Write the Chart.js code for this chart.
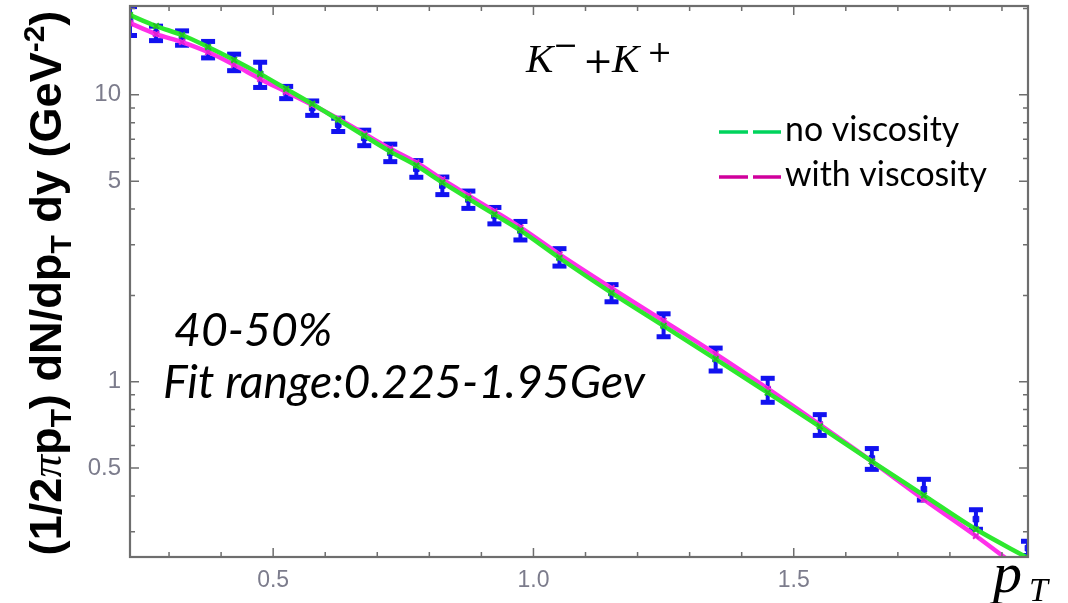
<!DOCTYPE html>
<html><head><meta charset="utf-8">
<script src="https://cdn.jsdelivr.net/npm/chart.js@4.4.1/dist/chart.umd.min.js"></script>
<style>html,body{margin:0;padding:0;background:#fff;overflow:hidden}canvas{display:block}</style>
</head><body>
<canvas id="c" width="1068" height="603"></canvas>
<script>
// ---- data ----
const pT = [0.225,0.275,0.325,0.375,0.425,0.475,0.525,0.575,0.625,0.675,0.725,0.775,0.825,0.875,0.925,0.975,
            1.05,1.15,1.25,1.35,1.45,1.55,1.65,1.75,1.85,1.95];
const yields = [18.2,16.4,15.8,14.4,13.0,11.8,10.2,9.0,7.87,7.09,6.29,5.53,4.83,4.32,3.80,3.37,
                2.72,2.04,1.58,1.20,0.938,0.709,0.540,0.422,0.332,0.263];
const errors = [2.1,0.95,0.91,0.95,0.86,1.19,0.50,0.52,0.42,0.44,0.44,0.37,0.34,0.30,0.25,0.25,
                0.19,0.14,0.145,0.11,0.09,0.059,0.045,0.035,0.026,0.015];
const fitNoViscosity = [18.96,17.36,16.16,14.68,13.23,11.83,10.49,9.30,8.19,7.20,6.34,5.67,4.95,4.35,3.83,3.37,
                        2.70,2.04,1.565,1.20,0.916,0.698,0.528,0.402,0.306,0.243];
const fitWithViscosity = [17.78,16.29,15.28,14.10,12.72,11.36,10.24,9.23,8.25,7.32,6.49,5.81,5.07,4.46,3.93,3.45,
                          2.78,2.12,1.63,1.25,0.946,0.709,0.528,0.389,0.290,0.212];
const seriesLabels = ['no viscosity','with viscosity'];
const xTickValues = [0.5,1.0,1.5];
const xMinorTicks = [0.3,0.4,0.6,0.7,0.8,0.9,1.1,1.2,1.3,1.4,1.6,1.7,1.8,1.9];
const yTickValues = [0.5,1,5,10];
const yMinorTicks = [0.3,0.4,0.6,0.7,0.8,0.9,2,3,4,6,7,8,9,20];

const GREEN = '#2ee82e', MAGENTA = '#ff30ea';
const LEG_GREEN = '#00d45c', LEG_MAGENTA = '#d0009c';
const FRAME = '#6e6e6e';

function drawTicks(ctx, a, xs, ys){
  ctx.save();
  ctx.strokeStyle = FRAME; ctx.lineWidth = 1.5;
  ctx.beginPath();
  const tx = (v, len) => { const p = xs.getPixelForValue(v);
    ctx.moveTo(p, a.bottom); ctx.lineTo(p, a.bottom - len);
    ctx.moveTo(p, a.top); ctx.lineTo(p, a.top + len); };
  const ty = (v, len) => { const p = ys.getPixelForValue(v);
    ctx.moveTo(a.left, p); ctx.lineTo(a.left + len, p);
    ctx.moveTo(a.right, p); ctx.lineTo(a.right - len, p); };
  xTickValues.forEach(v => tx(v, 9)); xMinorTicks.forEach(v => tx(v, 5));
  yTickValues.forEach(v => ty(v, 9)); yMinorTicks.forEach(v => ty(v, 5));
  ctx.stroke();
  ctx.lineWidth = 2.2;
  ctx.strokeRect(a.left, a.top, a.right - a.left, a.bottom - a.top);
  ctx.restore();
}

function rich(ctx, segs, x, y, measureOnly){
  let cx = x;
  segs.forEach(s => { ctx.font = s.font; if(!measureOnly) ctx.fillText(s.t, cx, y + (s.dy||0)); cx += ctx.measureText(s.t).width; });
  return cx - x;
}
function fitSize(ctx, text, style, family, targetW){
  ctx.font = `${style} 40px ${family}`;
  return 40 * targetW / ctx.measureText(text).width;
}

const decor = {
  id: 'decor',
  beforeDatasetsDraw(chart){
    const {ctx, chartArea:a, scales:{x:xs, y:ys}} = chart;
    ctx.save();
    ctx.beginPath(); ctx.rect(a.left, a.top, a.right-a.left, a.bottom-a.top); ctx.clip();
    ctx.strokeStyle = '#1212f0'; ctx.fillStyle = '#1212f0';
    pT.forEach((v,i) => {
      const px = xs.getPixelForValue(v);
      const y1 = ys.getPixelForValue(yields[i] + errors[i]);
      const y2 = ys.getPixelForValue(yields[i] - errors[i]);
      ctx.lineWidth = 4;
      ctx.beginPath(); ctx.moveTo(px, y1); ctx.lineTo(px, y2); ctx.stroke();
      ctx.fillRect(px - 7, y1 - 2.5, 14, 5);
      ctx.fillRect(px - 7, y2 - 2.5, 14, 5);
    });
    ctx.restore();
  },
  afterDraw(chart){
    const {ctx, chartArea:a, scales:{x:xs, y:ys}} = chart;
    drawTicks(ctx, a, xs, ys);
    ctx.save();
    ctx.fillStyle = '#000'; ctx.textBaseline = 'alphabetic'; ctx.textAlign = 'left';

    // legend
    const legSize = fitSize(ctx, seriesLabels[1], '', 'Lato', 202);
    const legend = [[seriesLabels[0], LEG_GREEN, 132], [seriesLabels[1], LEG_MAGENTA, 177]];
    legend.forEach(([lab, col, y]) => {
      ctx.strokeStyle = col; ctx.lineWidth = 3.5;
      ctx.beginPath(); ctx.moveTo(719, y); ctx.lineTo(748, y); ctx.moveTo(753, y); ctx.lineTo(781, y); ctx.stroke();
      ctx.font = `${legSize}px Lato`; ctx.fillStyle = '#000';
      ctx.fillText(lab, 785, y + 9);
    });

    // K- + K+
    const KF = 'italic 41px "Liberation Serif"';
    const OPF = '30px "DejaVu Serif"';
    ctx.font = KF; ctx.fillText('K', 526, 72);
    ctx.font = OPF; ctx.fillText('\u2212', 553, 55);
    ctx.font = '36px "DejaVu Serif"'; ctx.fillText('+', 583, 73);
    ctx.font = KF; ctx.fillText('K', 612, 72);
    ctx.font = OPF; ctx.fillText('+', 647, 62);

    // annotations
    const annSize = fitSize(ctx, 'Fit range:0.225-1.95Gev', 'italic', 'Lato', 482);
    ctx.font = `italic ${annSize}px Lato`;
    ctx.fillText('40-50%', 174, 346);
    ctx.fillText('Fit range:0.225-1.95Gev', 163, 398);

    // p_T
    ctx.font = 'italic 58px "Liberation Serif"'; ctx.fillText('p', 993, 592);
    ctx.font = 'italic 34px "Liberation Serif"'; ctx.fillText('T', 1029, 601);

    // y-axis title
    const base = 27;
    const segs = (s) => {
      const B = `bold ${s}px "Liberation Sans"`, S = `bold ${s*0.66}px "Liberation Sans"`;
      const P = `italic ${s}px "Liberation Serif"`;
      return [
        {t:'(1/2', font:B}, {t:'\u03c0', font:P}, {t:'p', font:B}, {t:'T', font:S, dy:s*0.22},
        {t:') dN/dp', font:B}, {t:'T', font:S, dy:s*0.22}, {t:' dy (GeV', font:B},
        {t:'-2', font:S, dy:-s*0.38}, {t:')', font:B}
      ];
    };
    let w = rich(ctx, segs(base), 0, 0, true);
    const size = base * 545 / w;
    const sg = segs(size);
    w = rich(ctx, sg, 0, 0, true);
    ctx.translate(61, 283); ctx.rotate(-Math.PI/2);
    rich(ctx, sg, -w/2, 0, false);
    ctx.restore();
  }
};

new Chart(document.getElementById('c'), {
  type: 'scatter',
  data: { datasets: [
    { label: seriesLabels[0], type: 'line', data: pT.map((x,i)=>({x, y: fitNoViscosity[i]})),
      borderColor: GREEN, borderWidth: 4.5, backgroundColor: 'transparent', fill: false,
      pointStyle: 'crossRot', pointRadius: 4, pointBorderWidth: 2, pointBorderColor: '#22c022',
      cubicInterpolationMode: 'monotone', order: 0, clip: 0 },
    { label: seriesLabels[1], type: 'line', data: pT.map((x,i)=>({x, y: fitWithViscosity[i]})),
      borderColor: MAGENTA, borderWidth: 4.5, backgroundColor: 'transparent', fill: false,
      pointStyle: 'crossRot', pointRadius: 4, pointBorderWidth: 2, pointBorderColor: '#e020d0',
      cubicInterpolationMode: 'monotone', order: 1, clip: 0 },
    { label: 'data', data: pT.map((x,i)=>({x, y: yields[i]})),
      pointStyle: 'rect', pointRadius: 4, backgroundColor: '#1212f0', borderColor: '#1212f0', order: 2, clip: 0 }
  ]},
  options: {
    responsive: false, animation: false, devicePixelRatio: 1,
    layout: { padding: { top: 4, right: 40, left: 0, bottom: 0 } },
    plugins: { legend: { display: false }, tooltip: { enabled: false } },
    scales: {
      x: { type: 'linear', min: 0.225, max: 1.95,
        grid: { display: false, drawTicks: false }, border: { display: false },
        afterBuildTicks: s => { s.ticks = xTickValues.map(v => ({value: v})); },
        afterFit: s => { s.height = 46; s.paddingLeft = 0; s.paddingRight = 0; },
        ticks: { padding: 10, color: '#7c7c8c', font: { family: 'Liberation Sans', size: 23 },
                 maxRotation: 0, autoSkip: false, callback: v => Number(v).toFixed(1) } },
      y: { type: 'logarithmic', min: 0.245, max: 20.4,
        grid: { display: false, drawTicks: false }, border: { display: false },
        afterBuildTicks: s => { s.ticks = yTickValues.map(v => ({value: v})); },
        afterFit: s => { s.width = 130; s.paddingTop = 0; s.paddingBottom = 0; },
        ticks: { padding: 9, color: '#7c7c8c', font: { family: 'Liberation Sans', size: 24 },
                 autoSkip: false, callback: v => String(v) } }
    }
  },
  plugins: [decor]
});
</script>
</body></html>
